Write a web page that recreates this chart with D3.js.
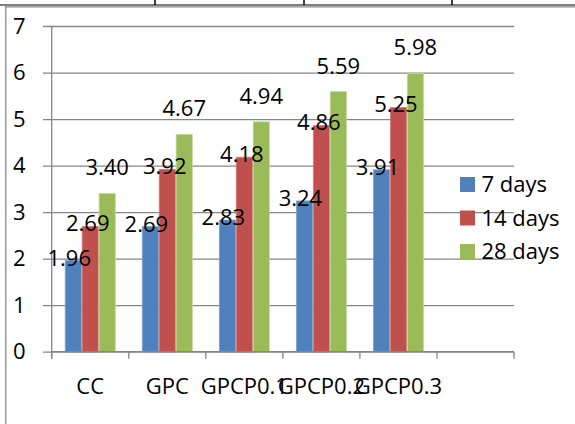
<!DOCTYPE html>
<html>
<head>
<meta charset="utf-8">
<script src="https://cdn.jsdelivr.net/npm/d3@7"></script>
<style>
  html, body { margin: 0; padding: 0; background: #fff; }
  svg { display: block; }
  text { font-family: "Open Sans", "Noto Sans", sans-serif; fill: #000; }
</style>
</head>
<body>
<svg id="chart" width="575" height="424"></svg>
<script>
// Compressive strength by mix and curing age
const categories = ["CC", "GPC", "GPCP0.1", "GPCP0.2", "GPCP0.3"];
const seriesNames = ["7 days", "14 days", "28 days"];
const days7 = [1.96, 2.69, 2.83, 3.24, 3.91];
const days14 = [2.69, 3.92, 4.18, 4.86, 5.25];
const days28 = [3.40, 4.67, 4.94, 5.59, 5.98];
const yTicks = [0, 1, 2, 3, 4, 5, 6, 7];

const seriesValues = [days7, days14, days28];
const colors = ["#4F81BD", "#C0504D", "#9BBB59"];
const edges = ["#7fa3d1", "#d47d7b", "#c3d89c"];
// label placement per series: horizontal nudge and lift above bar top
const labelDx = [-4, -2.5, 0];
const labelLift = [2.5, 3, 26];

const svg = d3.select("#chart");
const fontSize = 22;
const gridColor = "#868686";

const plot = { left: 51.7, right: 514, top: 26, bottom: 351.7 };

// surrounding frame
svg.append("line").attr("x1", 0).attr("x2", 575).attr("y1", 5).attr("y2", 5)
  .attr("stroke", "#000").attr("stroke-width", 1.2);
[155, 304, 452].forEach(xv => {
  svg.append("line").attr("x1", xv).attr("x2", xv).attr("y1", 0).attr("y2", 5)
    .attr("stroke", "#000").attr("stroke-width", 1.5);
});
svg.append("line").attr("x1", 5).attr("x2", 575).attr("y1", 6.8).attr("y2", 6.8)
  .attr("stroke", "#8a8a8a").attr("stroke-width", 1.3);
svg.append("line").attr("x1", 5.8).attr("x2", 5.8).attr("y1", 6.2).attr("y2", 424)
  .attr("stroke", "#8a8a8a").attr("stroke-width", 1.3);

// scales: five categories plus one empty slot on the axis
const slots = categories.concat([""]);
const x = d3.scaleBand().domain(d3.range(slots.length)).range([plot.left, plot.right]).padding(0);
const y = d3.scaleLinear().domain([0, 7]).range([plot.bottom, plot.top]);
const barW = x.bandwidth() * 0.22;
const groupOffset = (x.bandwidth() - barW * seriesNames.length) / 2;

// y axis with gridlines
const yAxis = d3.axisLeft(y).tickValues(yTicks)
  .tickSize(-(plot.right - 43)).tickPadding(17.5).tickFormat(d3.format("d"));
const gy = svg.append("g").attr("transform", `translate(43,0)`).call(yAxis);
gy.select(".domain").remove();
gy.selectAll(".tick line").attr("stroke", gridColor).attr("stroke-width", 1.3);
gy.selectAll(".tick text").attr("font-size", fontSize).attr("fill", "#000")
  .style("font-family", '"Open Sans", "Noto Sans", sans-serif');

// vertical axis line
svg.append("line").attr("x1", plot.left).attr("x2", plot.left)
  .attr("y1", plot.top).attr("y2", plot.bottom + 7)
  .attr("stroke", gridColor).attr("stroke-width", 1.3);

// bars
seriesValues.forEach((vals, si) => {
  svg.append("g").selectAll("rect").data(vals).join("rect")
    .attr("x", (d, i) => x(i) + groupOffset + si * barW + 0.4)
    .attr("y", d => y(d))
    .attr("width", barW - 0.8)
    .attr("height", d => y(0) - y(d))
    .attr("fill", colors[si])
    .attr("stroke", edges[si])
    .attr("stroke-width", 0.8);
});

// x axis line and category boundary ticks
svg.append("line").attr("x1", plot.left).attr("x2", plot.right)
  .attr("y1", plot.bottom).attr("y2", plot.bottom)
  .attr("stroke", gridColor).attr("stroke-width", 1.3);
svg.append("g").selectAll("line").data(d3.range(slots.length + 1)).join("line")
  .attr("x1", i => plot.left + i * x.step()).attr("x2", i => plot.left + i * x.step())
  .attr("y1", plot.bottom).attr("y2", plot.bottom + 7)
  .attr("stroke", gridColor).attr("stroke-width", 1.3);

// category labels
svg.append("g").selectAll("text").data(categories).join("text")
  .attr("x", (d, i) => x(i) + x.bandwidth() / 2)
  .attr("y", 386).attr("dy", "0.36em")
  .attr("text-anchor", "middle").attr("font-size", fontSize)
  .text(d => d);

// value labels
seriesValues.forEach((vals, si) => {
  svg.append("g").selectAll("text").data(vals).join("text")
    .attr("x", (d, i) => x(i) + groupOffset + si * barW + barW / 2 + labelDx[si])
    .attr("y", d => y(d) - labelLift[si]).attr("dy", "0.36em")
    .attr("text-anchor", "middle").attr("font-size", fontSize)
    .text(d => d.toFixed(2));
});

// legend
const legend = svg.append("g").attr("transform", "translate(460,184.5)");
seriesNames.forEach((name, si) => {
  const row = legend.append("g").attr("transform", `translate(0,${si * 33.5})`);
  row.append("rect").attr("x", 0).attr("y", -7.5).attr("width", 15).attr("height", 15)
    .attr("fill", colors[si]);
  row.append("text").attr("x", 21.5).attr("y", 0).attr("dy", "0.36em")
    .attr("font-size", fontSize).text(name);
});
</script>
</body>
</html>
